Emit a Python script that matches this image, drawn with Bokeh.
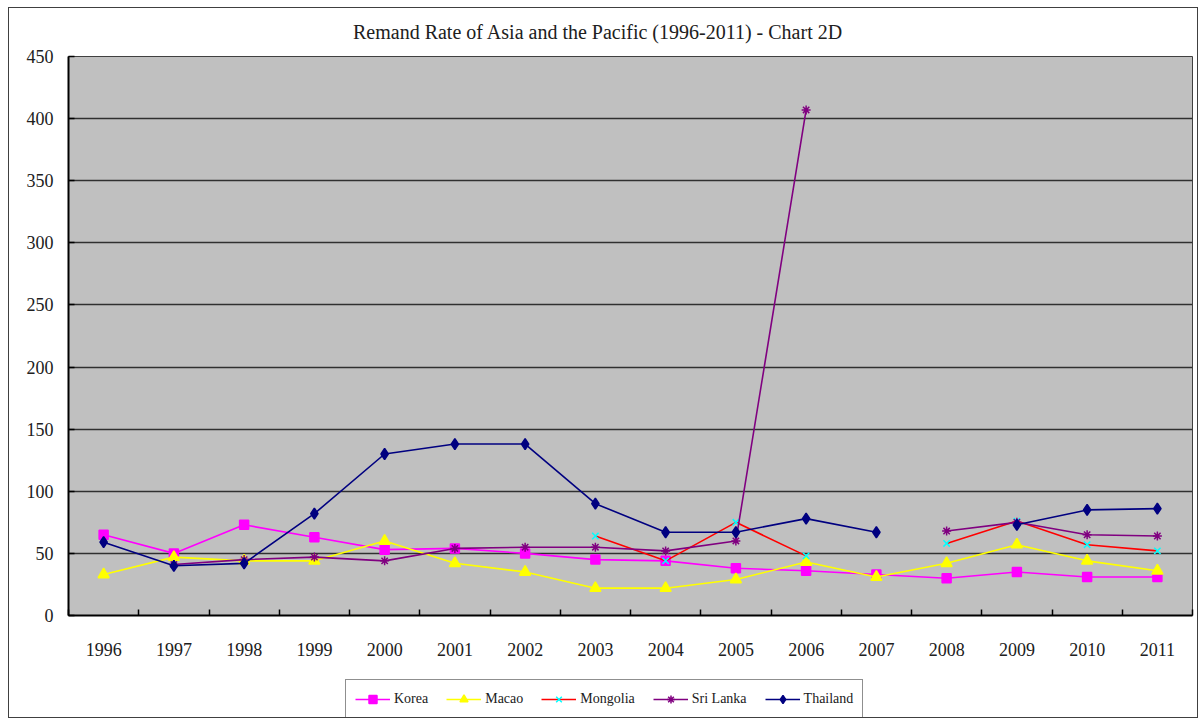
import numpy as np
from bokeh.plotting import figure
from bokeh.layouts import column
from bokeh.models import (Range1d, FixedTicker, Legend, LegendItem, ColumnDataSource, Div)
from bokeh.embed import file_html
from bokeh.resources import INLINE

nan = np.nan
years = list(range(1996, 2012))
year_labels = [str(y) for y in years]
korea = [65, 50, 73, 63, 53, 54, 50, 45, 44, 38, 36, 33, 30, 35, 31, 31]
macao = [33, 47, 44, 44, 60, 42, 35, 22, 22, 29, 43, 31, 42, 57, 44, 36]
mongolia = [nan, nan, nan, nan, nan, nan, nan, 64, 44, 75, 48, nan, 58, 76, 57, 52]
sri_lanka = [nan, 41, 45, 47, 44, 54, 55, 55, 52, 60, 407, nan, 68, 75, 65, 64]
thailand = [59, 40, 42, 82, 130, 138, 138, 90, 67, 67, 78, 67, nan, 73, 85, 86]
y_ticks = [0, 50, 100, 150, 200, 250, 300, 350, 400, 450]
title_text = "Remand Rate of Asia and the Pacific (1996-2011) - Chart 2D"

FONT = "Liberation Serif"

title = Div(
    text=("<div style=\"padding-left:344px;padding-top:13px;line-height:22px;"
          "font-family:'Liberation Serif';font-size:20px;color:#202020;"
          "white-space:nowrap\">" + title_text + "</div>"),
    width=1188, height=40, margin=0)

p = figure(width=1188, height=627, output_backend="svg", toolbar_location=None,
           x_range=Range1d(1995.5, 2011.5), y_range=Range1d(0, 450),
           min_border_left=59, min_border_right=5, min_border_top=8,
           min_border_bottom=60)

p.background_fill_color = "#C0C0C0"
p.border_fill_color = "white"
p.outline_line_color = "#404040"
p.outline_line_width = 1

# x axis: labels at category centers, ticks between categories
xt = FixedTicker(ticks=years, minor_ticks=[y - 0.5 for y in years] + [2011.5])
p.xaxis.ticker = xt
p.xaxis.major_label_overrides = {y: s for y, s in zip(years, year_labels)}
p.xaxis.major_tick_line_color = None
p.xaxis.minor_tick_in = 6
p.xaxis.minor_tick_out = 0
p.xaxis.minor_tick_line_color = "black"
p.xaxis.minor_tick_line_width = 1.5
p.xaxis.axis_line_color = "black"
p.xaxis.axis_line_width = 2
p.xaxis.major_label_standoff = 21
p.xaxis.major_label_text_font = FONT
p.xaxis.major_label_text_font_size = "18px"
p.xaxis.major_label_text_color = "#202020"

p.yaxis.ticker = FixedTicker(ticks=y_ticks)
p.yaxis.minor_tick_line_color = None
p.yaxis.major_tick_in = 6
p.yaxis.major_tick_out = 0
p.yaxis.major_tick_line_width = 1.5
p.yaxis.axis_line_color = "black"
p.yaxis.axis_line_width = 2
p.yaxis.major_label_standoff = 15
p.yaxis.major_label_text_font = FONT
p.yaxis.major_label_text_font_size = "18px"
p.yaxis.major_label_text_color = "#202020"

p.xgrid.grid_line_color = None
p.ygrid.grid_line_color = "#303030"
p.ygrid.grid_line_width = 1.6

series = [
    ("Korea", korea, "#FF00FF", "#FF00FF", "square", 9),
    ("Macao", macao, "#FFFF00", "#FFFF00", "triangle", 11),
    ("Mongolia", mongolia, "#FF0000", "#00FFFF", "x", 9),
    ("Sri Lanka", sri_lanka, "#800080", "#800080", "asterisk", 9),
    ("Thailand", thailand, "#000080", "#000080", "diamond", 11),
]

# legend strip below the chart
q = figure(width=1188, height=42, output_backend="svg", toolbar_location=None,
           x_range=Range1d(0, 1), y_range=Range1d(0, 1),
           x_axis_location=None, y_axis_location=None,
           min_border=0, min_border_left=0, min_border_right=0,
           min_border_top=0, min_border_bottom=0)
q.grid.visible = False
q.outline_line_color = None
q.background_fill_color = "white"
q.border_fill_color = "white"

items = []
for name, vals, lc, mc, mk, sz in series:
    src = ColumnDataSource(dict(x=years, y=vals))
    p.line("x", "y", source=src, line_color=lc, line_width=1.6)
    p.scatter("x", "y", source=src, marker=mk, size=sz,
              fill_color=mc, line_color=mc, line_width=1.5)
    # off-screen sample used only so the legend can draw its swatch
    off = ColumnDataSource(dict(x=[-5, -4], y=[-5, -5]))
    ln = q.line("x", "y", source=off, line_color=lc, line_width=1.6)
    sc = q.scatter("x", "y", source=off, marker=mk, size=sz,
                   fill_color=mc, line_color=mc, line_width=1.5)
    items.append(LegendItem(label=name, renderers=[ln, sc]))

legend = Legend(items=items, orientation="horizontal", location=(277, -2),
                padding=9, spacing=18, glyph_width=35, glyph_height=20,
                label_height=20, label_standoff=4, margin=0,
                label_text_font=FONT, label_text_font_size="14px",
                label_text_color="#202020",
                border_line_color="#202020", border_line_width=1.5,
                background_fill_color="white", background_fill_alpha=1)
q.add_layout(legend, "center")

layout = column(title, p, q, spacing=0)
layout.styles = {"border": "1px solid #404040", "margin-left": "8px",
                 "margin-top": "7px", "background": "white"}

open("out.html", "w").write(file_html(layout, INLINE))
